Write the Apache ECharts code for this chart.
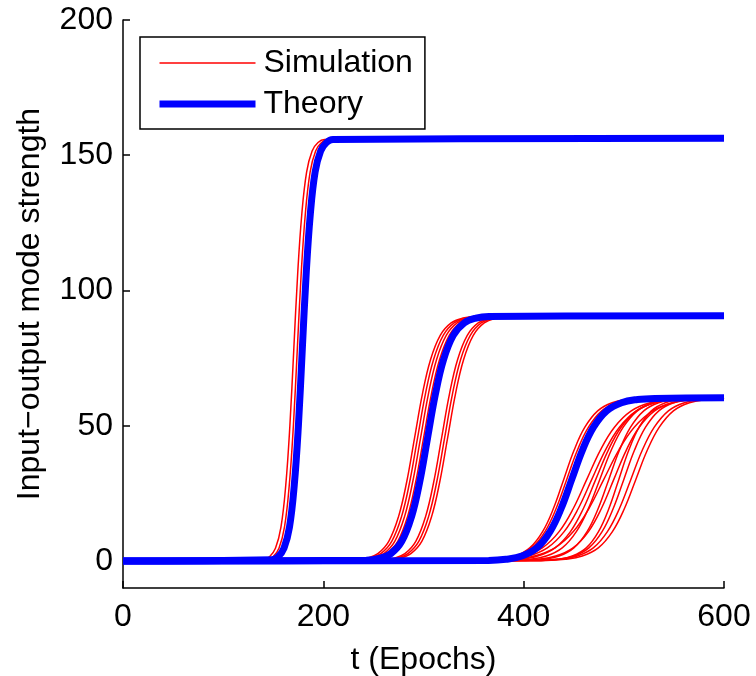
<!DOCTYPE html>
<html>
<head>
<meta charset="utf-8">
<script src="https://cdn.jsdelivr.net/npm/echarts@6/dist/echarts.min.js"></script>
<style>
  html, body { margin: 0; padding: 0; background: #fff; }
  #chart { width: 756px; height: 676px; }
</style>
</head>
<body>
<div id="chart"></div>
<script>
// axis ticks
const xTicks = [0, 200, 400, 600];
const yTicks = [0, 50, 100, 150, 200];

// each curve = epochs at which it reaches the group's levels
const levels1 = [0, 0.47, 1.56, 4.69, 12.5, 28.1, 50.0, 78.2, 106.3, 128.2, 143.8, 151.6, 154.7, 155.8, 156.3];
const levels2 = [0, 0.27, 0.91, 2.72, 7.26, 16.3, 29.0, 45.35, 61.7, 74.4, 83.4, 88.0, 89.8, 90.4, 90.7];
const levels3 = [0, 0.18, 0.6, 1.81, 4.82, 10.85, 19.3, 30.15, 41.0, 49.45, 55.5, 58.5, 59.7, 60.1, 60.3];

// theory curves
const theory1 = [0, 148.4, 154.8, 160.7, 166.2, 171, 175.1, 179, 182.9, 187, 191.8, 197.3, 203.2, 209.6, 600];
const theory2 = [0, 242.8, 255.6, 267.4, 278.3, 288, 296.1, 304, 311.9, 320, 329.7, 340.6, 352.4, 365.2, 600];
const theory3 = [0, 365, 382.3, 398.3, 413.1, 426.3, 437.3, 448, 458.7, 469.7, 482.9, 497.7, 513.7, 531, 600];

// simulation runs
const sim1 = [
  [0, 139.9, 146.3, 152.2, 157.7, 162.5, 166.6, 170.5, 174.4, 178.5, 183.3, 188.8, 194.7, 201.1, 600],
  [0, 143.4, 149.8, 155.7, 161.2, 166, 170.1, 174, 177.9, 182, 186.8, 192.3, 198.2, 204.6, 600],
  [0, 146.4, 152.8, 158.7, 164.2, 169, 173.1, 177, 180.9, 185, 189.8, 195.3, 201.2, 207.6, 600]
];
const sim2 = [
  [0, 229.8, 242.6, 254.4, 265.3, 275, 283.1, 291, 298.9, 307, 316.7, 327.6, 339.4, 352.2, 600],
  [0, 232.8, 245.6, 257.4, 268.3, 278, 286.1, 294, 301.9, 310, 319.7, 330.6, 342.4, 355.2, 600],
  [0, 235.8, 248.6, 260.4, 271.3, 281, 289.1, 297, 304.9, 313, 322.7, 333.6, 345.4, 358.2, 600],
  [0, 238.8, 251.6, 263.4, 274.3, 284, 292.1, 300, 307.9, 316, 325.7, 336.6, 348.4, 361.2, 600],
  [0, 256.8, 269.6, 281.4, 292.3, 302, 310.1, 318, 325.9, 334, 343.7, 354.6, 366.4, 379.2, 600],
  [0, 259.8, 272.6, 284.4, 295.3, 305, 313.1, 321, 328.9, 337, 346.7, 357.6, 369.4, 382.2, 600],
  [0, 262.8, 275.6, 287.4, 298.3, 308, 316.1, 324, 331.9, 340, 349.7, 360.6, 372.4, 385.2, 600]
];
const sim3 = [
  [0, 359.3, 376.1, 391.7, 406.1, 418.9, 429.6, 440, 450.4, 461.1, 473.9, 488.3, 503.9, 520.7, 600],
  [0, 360, 377.3, 393.3, 408.1, 421.3, 432.3, 443, 453.7, 464.7, 477.9, 492.7, 508.7, 526, 600],
  [0, 357.4, 379.4, 399.7, 418.6, 435.4, 449.4, 463, 476.6, 490.6, 507.4, 526.3, 546.6, 568.6, 600],
  [0, 362.4, 384.4, 404.7, 423.6, 440.4, 454.4, 468, 481.6, 495.6, 512.4, 531.3, 551.6, 573.6, 600],
  [0, 375.2, 395.3, 414, 431.3, 446.7, 459.5, 472, 484.5, 497.3, 512.7, 530, 548.7, 568.8, 600],
  [0, 386.6, 405.2, 422.5, 438.5, 452.6, 464.5, 476, 487.5, 499.4, 513.5, 529.5, 546.8, 565.4, 600],
  [0, 363.8, 388, 410.4, 431.2, 449.6, 465, 480, 495, 510.4, 528.8, 549.6, 572, 596.2, 600],
  [0, 402, 419.3, 435.3, 450.1, 463.3, 474.3, 485, 495.7, 506.7, 519.9, 534.7, 550.7, 568, 600],
  [0, 393.2, 413.3, 432, 449.3, 464.7, 477.5, 490, 502.5, 515.3, 530.7, 548, 566.7, 586.8, 600],
  [0, 417.5, 433.7, 448.6, 462.5, 474.7, 485, 495, 505, 515.3, 527.5, 541.4, 556.3, 572.5, 600],
  [0, 417, 434.3, 450.3, 465.1, 478.3, 489.3, 500, 510.7, 521.7, 534.9, 549.7, 565.7, 583, 600],
  [0, 417.6, 436.4, 453.5, 469.5, 483.6, 495.5, 507, 518.5, 530.4, 544.5, 560.5, 577.8, 596, 600],
  [0, 422.6, 441.4, 458.5, 474.5, 488.6, 500.5, 512, 523.5, 535.4, 549.5, 565.5, 582.8, 598, 600]
];

const FONT = 'Liberation Sans, Helvetica, Arial, sans-serif';

function pairs(times, levels) {
  return times.map(function (t, i) { return [t, levels[i]]; });
}

function simSeries(times, levels) {
  return {
    name: 'Simulation',
    type: 'line',
    data: pairs(times, levels),
    symbol: 'none',
    smooth: 0.4,
    z: 2,
    lineStyle: { color: '#ff0000', width: 1.5 },
    itemStyle: { color: '#ff0000' }
  };
}

function theorySeries(times, levels) {
  return {
    name: 'Theory',
    type: 'line',
    data: pairs(times, levels),
    symbol: 'none',
    smooth: 0.4,
    z: 3,
    lineStyle: { color: '#0000ff', width: 7 },
    itemStyle: { color: '#0000ff' }
  };
}

const series = [];
sim1.forEach(function (s) { series.push(simSeries(s, levels1)); });
sim2.forEach(function (s) { series.push(simSeries(s, levels2)); });
sim3.forEach(function (s) { series.push(simSeries(s, levels3)); });
series.push(theorySeries(theory1, levels1));
series.push(theorySeries(theory2, levels2));
series.push(theorySeries(theory3, levels3));

const chart = echarts.init(document.getElementById('chart'), null, { renderer: 'canvas' });

const option = {
  animation: false,
  backgroundColor: '#ffffff',
  textStyle: { fontFamily: FONT },
  grid: { left: 123, right: 32, top: 20, bottom: 88, containLabel: false, outerBoundsMode: 'none' },
  legend: {
    data: ['Simulation', 'Theory'],
    orient: 'vertical',
    left: 140,
    top: 37,
    padding: [10, 12, 9, 16],
    itemGap: 9,
    itemWidth: 96,
    itemHeight: 34,
    borderColor: '#000',
    borderWidth: 1.5,
    backgroundColor: '#fff',
    itemStyle: { opacity: 0 },
    lineStyle: { width: 'inherit' },
    textStyle: { fontSize: 32, color: '#000', fontFamily: FONT, padding: [0, 0, 0, 3] }
  },
  xAxis: {
    type: 'value',
    min: 0,
    max: 600,
    interval: 200,
    name: 't (Epochs)',
    nameLocation: 'middle',
    nameGap: 56,
    nameTextStyle: { fontSize: 32, color: '#000', fontFamily: FONT },
    axisLine: { onZero: false, lineStyle: { color: '#000', width: 1.5 } },
    axisTick: { inside: true, length: 7, lineStyle: { color: '#000', width: 1.5 }, customValues: xTicks },
    axisLabel: { fontSize: 32, color: '#000', margin: 13, fontFamily: FONT, customValues: xTicks },
    splitLine: { show: false }
  },
  yAxis: {
    type: 'value',
    min: -10,
    max: 200,
    name: 'Input\u2212output mode strength',
    nameLocation: 'middle',
    nameGap: 77,
    nameTextStyle: { fontSize: 32, color: '#000', fontFamily: FONT },
    axisLine: { show: true, lineStyle: { color: '#000', width: 1.5 } },
    axisTick: { show: true, inside: true, length: 7, lineStyle: { color: '#000', width: 1.5 }, customValues: yTicks },
    axisLabel: { fontSize: 32, color: '#000', margin: 10, fontFamily: FONT, customValues: yTicks },
    splitLine: { show: false }
  },
  series: series
};

chart.setOption(option);
</script>
</body>
</html>
